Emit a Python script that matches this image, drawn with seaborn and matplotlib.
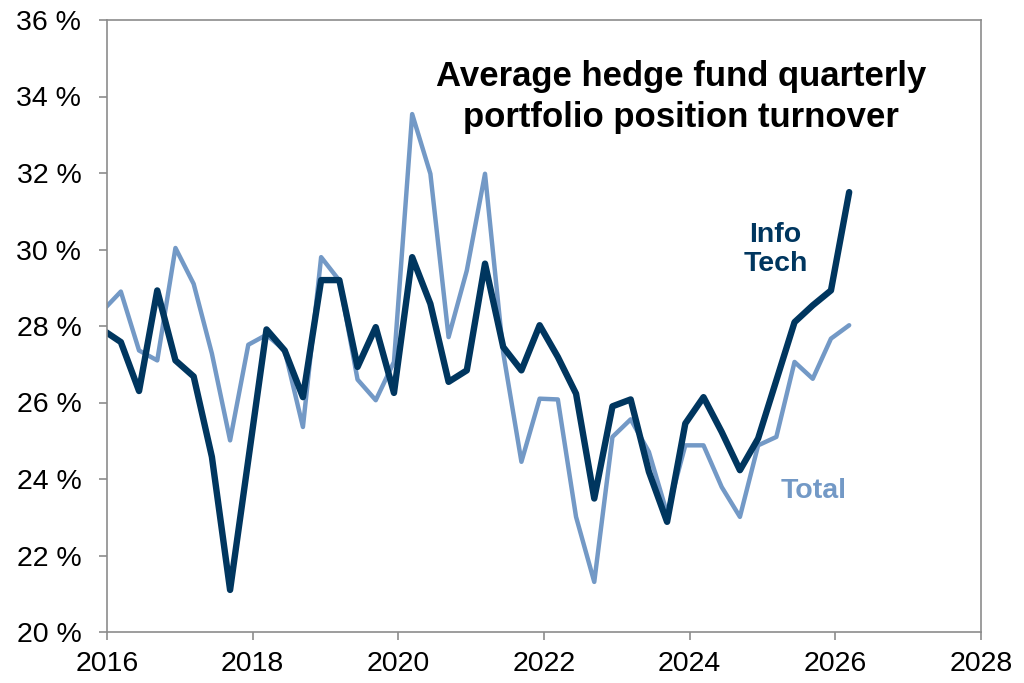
import numpy as np
import pandas as pd
import matplotlib
matplotlib.use("Agg")
import matplotlib.pyplot as plt
import seaborn as sns
from matplotlib.ticker import FuncFormatter

#-----------------------------------------------------------
# quarterly turnover readings (%), first point sits on the left edge
info_tech = [27.9, 27.58, 26.3, 28.93, 27.1, 26.68, 24.58, 21.1, 24.5, 27.91,
             27.36, 26.14, 29.2, 29.2, 26.93, 27.97, 26.25, 29.8, 28.58, 26.54,
             26.84, 29.63, 27.45, 26.84, 28.02, 27.19, 26.23, 23.49, 25.9, 26.08,
             24.19, 22.88, 25.45, 26.14, 25.23, 24.23, 25.06, 26.58, 28.1, 28.54,
             28.93, 31.5]
total = [28.4, 28.9, 27.36, 27.1, 30.04, 29.1, 27.28, 25.01, 27.51, 27.77,
         27.36, 25.36, 29.8, 29.19, 26.6, 26.06, 27.06, 33.54, 31.98, 27.71,
         29.45, 31.98, 27.3, 24.45, 26.1, 26.08, 23.01, 21.31, 25.1, 25.56,
         24.71, 23.1, 24.88, 24.88, 23.79, 23.01, 24.88, 25.1, 27.06, 26.62,
         27.67, 28.02]
years = 2015.94 + 0.25 * np.arange(len(total))

x_ticks = [2016, 2018, 2020, 2022, 2024, 2026, 2028]
y_ticks = [20, 22, 24, 26, 28, 30, 32, 34, 36]

DARK = "#00365f"
LIGHT = "#7399c6"
GREY = "#8c8c8c"

df = pd.DataFrame({"year": np.concatenate([years, years]),
                   "turnover": info_tech + total,
                   "series": ["Info Tech"] * len(years) + ["Total"] * len(years)})

#-----------------------------------------------------------
sns.set_style("white")
plt.rcParams["font.family"] = ["Liberation Sans", "DejaVu Sans"]

fig = plt.figure(figsize=(10.24, 6.83), dpi=100)
ax = fig.add_axes([107 / 1024, 1 - 632 / 683, 874 / 1024, 612 / 683])

# draw Total first so Info Tech sits on top
sns.lineplot(data=df[df.series == "Total"], x="year", y="turnover", color=LIGHT,
             linewidth=3.2, ax=ax, legend=False)
sns.lineplot(data=df[df.series == "Info Tech"], x="year", y="turnover", color=DARK,
             linewidth=4.6, ax=ax, legend=False)

ax.set_xlim(2016, 2028)
ax.set_ylim(20, 36)
ax.set_xticks(x_ticks)
ax.set_yticks(y_ticks)
ax.yaxis.set_major_formatter(FuncFormatter(lambda v, p: f"{v:.0f} %"))
ax.set_xlabel("")
ax.set_ylabel("")

for s in ax.spines.values():
    s.set_visible(True)
    s.set_color(GREY)
    s.set_linewidth(1.2)
ax.tick_params(axis="both", which="major", direction="out", length=5.5, width=1.2,
               color=GREY, labelsize=20.5, labelcolor="black")
ax.tick_params(axis="y", pad=13, left=True)
ax.tick_params(axis="x", pad=8, bottom=True)

ax.text(0.657, 0.874, "Average hedge fund quarterly\nportfolio position turnover",
        transform=ax.transAxes, ha="center", va="center", fontsize=25,
        fontweight="bold", linespacing=1.3, color="black")
ax.text(0.765, 0.625, "Info\nTech", transform=ax.transAxes, ha="center",
        va="center", fontsize=20.5, fontweight="bold", color=DARK, linespacing=1.15)
ax.text(0.808, 0.23, "Total", transform=ax.transAxes, ha="center",
        va="center", fontsize=20.5, fontweight="bold", color=LIGHT)

fig.savefig("out.png", dpi=100)
